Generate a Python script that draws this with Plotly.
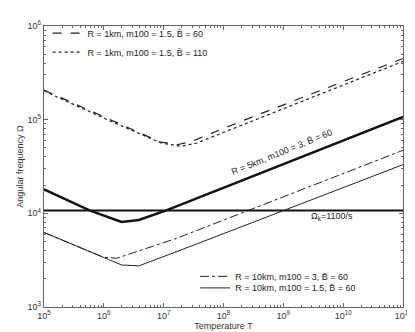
import plotly.graph_objects as go

# values (temperature T, angular frequency Omega)
t_r1_b60 = [1e5, 1.37e6, 8.6e6, 1.67e7, 2.8e7, 2.13e8, 1e11]
w_r1_b60 = [2.07e5, 9.8e4, 5.8e4, 5.4e4, 5.8e4, 9.8e4, 4.5e5]

t_r1_b110 = [1e5, 1.37e6, 9.3e6, 1.94e7, 3.5e7, 2.38e8, 1e11]
w_r1_b110 = [2.02e5, 9.5e4, 5.6e4, 5.2e4, 5.6e4, 9.1e4, 4.19e5]

t_r5 = [1e5, 5.9e5, 1.98e6, 3.84e6, 1.08e7, 1e11]
w_r5 = [1.8e4, 1.07e4, 8.1e3, 8.5e3, 1.07e4, 1.07e5]

t_r10_m3 = [1e5, 9.8e5, 1.64e6, 1.67e7, 1e11]
w_r10_m3 = [6.25e3, 3.4e3, 3.31e3, 5.43e3, 4.71e4]

t_r10_m15 = [1e5, 1.98e6, 3.84e6, 1.67e7, 1e11]
w_r10_m15 = [6.25e3, 2.81e3, 2.75e3, 3.91e3, 3.31e4]

omega_k = 1.07e4
t_span = [1e5, 1e11]

B = "B\u0304"
names = [
    f"R = 1km, m100 = 1.5, {B} = 60",
    f"R = 1km, m100 = 1.5, {B} = 110",
    f"R = 10km, m100 = 3, {B} = 60",
    f"R = 10km, m100 = 1.5, {B} = 60",
]

fig = go.Figure()

fig.add_trace(go.Scatter(x=t_r1_b60, y=w_r1_b60, mode="lines", name=names[0],
                         line=dict(color="#222", width=1.2, dash="dash"),
                         legend="legend"))
fig.add_trace(go.Scatter(x=t_r1_b110, y=w_r1_b110, mode="lines", name=names[1],
                         line=dict(color="#222", width=1.2, dash="dot"),
                         legend="legend2"))
fig.add_trace(go.Scatter(x=t_r5, y=w_r5, mode="lines", showlegend=False,
                         line=dict(color="#111", width=2.5)))
fig.add_trace(go.Scatter(x=t_span, y=[omega_k, omega_k], mode="lines", showlegend=False,
                         line=dict(color="#111", width=2)))
fig.add_trace(go.Scatter(x=t_r10_m3, y=w_r10_m3, mode="lines", name=names[2],
                         line=dict(color="#222", width=1, dash="dashdot"),
                         legend="legend3"))
fig.add_trace(go.Scatter(x=t_r10_m15, y=w_r10_m15, mode="lines", name=names[3],
                         line=dict(color="#222", width=1),
                         legend="legend4"))

tickvals_x = [10.0 ** i for i in range(5, 12)]
ticktext_x = [f"10<sup>{i}</sup>" for i in range(5, 12)]
tickvals_y = [10.0 ** i for i in range(3, 7)]
ticktext_y = [f"10<sup>{i}</sup>" for i in range(3, 7)]
minor_x = [m * 10.0 ** i for i in range(5, 11) for m in range(2, 10)]
minor_y = [m * 10.0 ** i for i in range(3, 6) for m in range(2, 10)]

axis_common = dict(
    type="log", showgrid=False, zeroline=False,
    showline=True, linecolor="#666", linewidth=1.3, mirror="ticks",
    ticks="inside", ticklen=4, tickcolor="#666",
    tickfont=dict(size=9, color="#333"),
)

fig.update_xaxes(range=[5, 11], tickvals=tickvals_x, ticktext=ticktext_x,
                 minor=dict(tickvals=minor_x, ticks="inside", ticklen=2,
                            tickcolor="#666", showgrid=False),
                 title=dict(text="Temperature T", font=dict(size=9, color="#333"), standoff=2),
                 **axis_common)
fig.update_yaxes(range=[3, 6], tickvals=tickvals_y, ticktext=ticktext_y,
                 minor=dict(tickvals=minor_y, ticks="inside", ticklen=2,
                            tickcolor="#666", showgrid=False),
                 title=dict(text="Angular frequency \u03a9", font=dict(size=9, color="#333"), standoff=2),
                 **axis_common)

fig.add_annotation(x=8.98, y=4.65, xref="x", yref="y",
                   text=f"R = 5km, m100 = 3, {B} = 60", showarrow=False,
                   textangle=-22, font=dict(size=9, color="#222"))
fig.add_annotation(x=9.82, y=3.97, xref="x", yref="y",
                   text="\u03a9<sub>k</sub>=1100/s", showarrow=False,
                   font=dict(size=9, color="#222"))

legend_style = dict(xanchor="left", yanchor="middle", bgcolor="rgba(0,0,0,0)",
                    font=dict(size=9, color="#222"))

fig.update_layout(
    width=415, height=332,
    margin=dict(l=29, r=11, t=12, b=26),
    paper_bgcolor="white", plot_bgcolor="white",
    font=dict(family="Liberation Sans, Arial, sans-serif", size=9, color="#333"),
    legend=dict(x=0.01, y=0.975, **legend_style),
    legend2=dict(x=0.01, y=0.907, **legend_style),
    legend3=dict(x=0.421, y=0.109, **legend_style),
    legend4=dict(x=0.421, y=0.068, **legend_style),
)

fig.write_html("out.html")
